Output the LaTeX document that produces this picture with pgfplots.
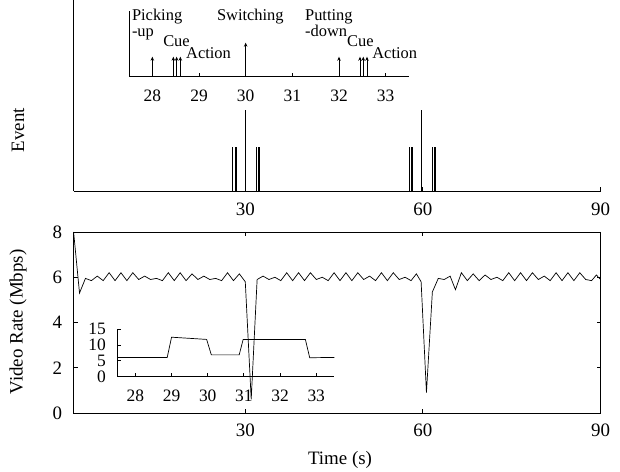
\documentclass[border=0pt]{standalone}
\usepackage{pgfplots}
\pgfplotsset{compat=1.18}
\usepackage{fontspec}
\setmainfont{Liberation Serif}
\usetikzlibrary{arrows.meta}

\newcommand{\fs}{\fontsize{19}{20}\selectfont}
\newcommand{\fa}{\fontsize{16.5}{17}\selectfont}
\newcommand{\finset}{\fontsize{17.5}{18}\selectfont}

\pgfplotsset{
  base/.style={
    scale only axis, anchor=south west,
    tick align=inside,
    /pgf/number format/assume math mode=true,
    axis line style={line width=0.8bp},
    major tick style={line width=0.8bp, black},
    major tick length=4bp,
    tick label style={font=\fs},
    label style={font=\fs},
  },
  lines/.style={axis x line*=bottom, axis y line*=left},
}

\begin{document}
\begin{tikzpicture}
\useasboundingbox (0,0) rectangle (620bp,472bp);

% events, main
\begin{axis}[base, lines, at={(73.6bp,281bp)}, width=526.9bp, height=191bp,
  xmin=1, xmax=90, ymin=0, ymax=4.34, xtick={30,60,90}, ytick=\empty,
  xticklabel style={yshift=-8bp},
  ylabel={Event},
  ylabel style={at={(axis description cs:-0.1055,0.319)}, anchor=center}]
\addplot[ycomb, line width=1.1bp, black] table {
t e
27.9 1
28.35 1
28.42 1
28.5 1
30 1.84
31.85 1
32.25 1
32.32 1
32.4 1
57.7 1
58.1 1
58.17 1
58.25 1
59.7 1.84
61.65 1
62.05 1
62.12 1
62.2 1
};
\end{axis}

% events, inset
\begin{axis}[base, lines, clip=false, at={(129bp,395.3bp)}, width=280bp, height=66bp,
  xmin=27.5, xmax=33.5, ymin=0, ymax=3.3, xtick={28,...,33}, ytick=\empty,
  tick label style={font=\finset}, xticklabel style={yshift=-10bp}]
\addplot[quiver={u=0,v=\thisrow{h}}, -{Stealth[length=4bp,width=3.5bp]},
  line width=0.8bp, black] table[x=t,y=y] {
t y h
28 0 1
28.45 0 1
28.52 0 1
28.6 0 1
30 0 1.7
32 0 1
32.45 0 1
32.52 0 1
32.6 0 1
};
\node[font=\fa, anchor=base west, inner sep=0] at (axis cs:27.56,2.8) {Picking};
\node[font=\fa, anchor=base west, inner sep=0] at (axis cs:27.56,2.0) {-up};
\node[font=\fa, anchor=base west, inner sep=0] at (axis cs:28.23,1.5) {Cue};
\node[font=\fa, anchor=base west, inner sep=0] at (axis cs:28.72,0.92) {Action};
\node[font=\fa, anchor=base, inner sep=0] at (axis cs:30.1,2.8) {Switching};
\node[font=\fa, anchor=base west, inner sep=0] at (axis cs:31.27,2.8) {Putting};
\node[font=\fa, anchor=base west, inner sep=0] at (axis cs:31.27,2.0) {-down};
\node[font=\fa, anchor=base west, inner sep=0] at (axis cs:32.17,1.5) {Cue};
\node[font=\fa, anchor=base west, inner sep=0] at (axis cs:32.71,0.92) {Action};
\end{axis}

% video rate, main
\begin{axis}[base, at={(73.6bp,59bp)}, width=526.9bp, height=181bp,
  xmin=1, xmax=90, ymin=0, ymax=8, xtick={30,60,90}, ytick={0,2,...,8},
  xticklabel style={yshift=-7bp}, yticklabel style={xshift=-8bp},
  xlabel={Time (s)}, ylabel={Video Rate (Mbps)},
  xlabel style={at={(axis description cs:0.5056,-0.26)}, anchor=center},
  ylabel style={at={(axis description cs:-0.1055,0.503)}, anchor=center}]
\addplot[black, line width=0.7bp] table {
t v
1 8.0
2 5.3
3 5.95
4 5.85
5 6.05
6 5.85
7 6.2
8 5.85
9 6.2
10 5.85
11 6.2
12 5.9
13 6.05
14 5.9
15 5.95
16 5.85
17 6.2
18 5.85
19 6.2
20 5.85
21 6.15
22 5.9
23 6.05
24 5.9
25 5.95
26 5.85
27 6.2
28 5.85
29 6.15
30 5.8
31 0.6
32 5.9
33 6.05
34 5.9
35 6.0
36 5.85
37 6.2
38 5.85
39 6.2
40 5.85
41 6.2
42 5.9
43 6.0
44 5.85
45 6.2
46 5.85
47 6.2
48 5.85
49 6.2
50 5.9
51 6.05
52 5.85
53 6.2
54 5.85
55 6.2
56 5.9
57 6.0
58 5.85
58.9 6.15
59.7 5.8
60.6 0.9
61.6 5.35
62.6 5.95
63.6 5.9
64.6 6.05
65.5 5.45
66.5 6.2
67.5 5.85
68.5 6.15
69.5 5.85
70.5 6.1
71.5 5.9
72.5 6.0
73.5 5.85
74.5 6.2
75.5 5.85
76.5 6.2
77.5 5.85
78.5 6.2
79.5 5.9
80.5 6.05
81.5 5.85
82.5 6.2
83.5 5.85
84.5 6.2
85.5 5.85
86.5 6.2
87.5 5.9
88.5 5.85
89.3 6.1
90 5.9
};
\end{axis}

% video rate, inset
\begin{axis}[base, lines, at={(117.3bp,95.3bp)}, width=217bp, height=47.4bp,
  xmin=27.5, xmax=33.5, ymin=0, ymax=15, xtick={28,...,33}, ytick={0,5,10,15},
  tick label style={font=\finset}, xticklabel style={yshift=-10bp},
  yticklabel style={xshift=-8bp, inner ysep=0pt}]
\addplot[black, line width=0.7bp] table {
t v
27.5 6.1
28.88 6.1
29 12.5
29.97 11.8
30.1 6.9
30.87 6.9
30.98 11.8
32.7 11.8
32.82 6.0
33.5 6.1
};
\end{axis}
\end{tikzpicture}
\end{document}
